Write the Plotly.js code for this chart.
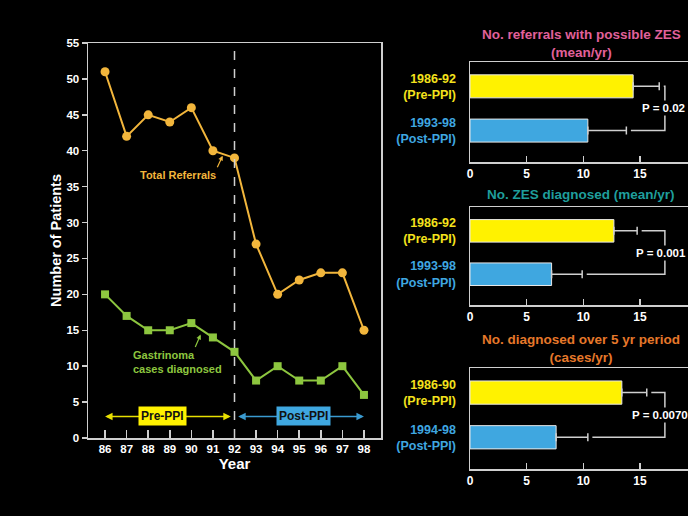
<!DOCTYPE html>
<html>
<head>
<meta charset="utf-8">
<script src="https://cdn.plot.ly/plotly-3.0.1.min.js"></script>
<style>html,body{margin:0;padding:0;background:#000;}#chart{width:688px;height:516px;}</style>
</head>
<body>
<div id="chart"></div>
<script>
// ---- Data ----
const years = [86, 87, 88, 89, 90, 91, 92, 93, 94, 95, 96, 97, 98];
const totalReferrals = [51, 42, 45, 44, 46, 40, 39, 27, 20, 22, 23, 23, 15];
const gastrinomaCases = [20, 17, 15, 15, 16, 14, 12, 8, 10, 8, 8, 10, 6];
const yTicks = [0, 5, 10, 15, 20, 25, 30, 35, 40, 45, 50, 55];

const periodLabels1 = ['1986-92', '1993-98'];
const periodLabels2 = ['1986-92', '1993-98'];
const periodLabels3 = ['1986-90', '1994-98'];
const referralsMean = [14.4, 10.4];
const referralsErr = [2.3, 3.4];
const zesMean = [12.7, 7.2];
const zesErr = [2.05, 2.7];
const fiveYrMean = [13.4, 7.6];
const fiveYrErr = [2.2, 2.8];
const pValues = ['P = 0.02', 'P = 0.001', 'P = 0.0070'];
const panelTitles = [
  'No. referrals with possible ZES<br>(mean/yr)',
  'No. ZES diagnosed (mean/yr)',
  'No. diagnosed over 5 yr period<br>(cases/yr)'
];

// ---- Styling ----
const W = 688, H = 516;
const FONT = 'Liberation Sans, Arial, Helvetica, sans-serif';
const GOLD = '#F2B63C', GREEN = '#8DC63F';
const YEL = '#FFF200', BLUE = '#3FA7E0';
const LBL_YEL = '#F4E21C', LBL_BLUE = '#3FA7E0';
const AXC = '#cfcfcf';
const px = v => v / W;
const py = v => 1 - v / H;

const traces = [];
traces.push({
  x: years, y: totalReferrals, type: 'scatter', mode: 'lines+markers',
  line: {color: GOLD, width: 2}, marker: {color: GOLD, size: 9, symbol: 'circle'},
  xaxis: 'x', yaxis: 'y', hoverinfo: 'skip'
});
traces.push({
  x: years, y: gastrinomaCases, type: 'scatter', mode: 'lines+markers',
  line: {color: GREEN, width: 2}, marker: {color: GREEN, size: 8, symbol: 'square'},
  xaxis: 'x', yaxis: 'y', hoverinfo: 'skip'
});

const panels = [
  {means: referralsMean, errs: referralsErr, labels: periodLabels1, xa: 'x2', ya: 'y2', top: 62, bottom: 162, pLeft: 640, title: panelTitles[0], titleY: 33, color: '#E0619A'},
  {means: zesMean, errs: zesErr, labels: periodLabels2, xa: 'x3', ya: 'y3', top: 207, bottom: 305, pLeft: 634, title: panelTitles[1], titleY: 193, color: '#1F9E9C'},
  {means: fiveYrMean, errs: fiveYrErr, labels: periodLabels3, xa: 'x4', ya: 'y4', top: 368, bottom: 469, pLeft: 630, title: panelTitles[2], titleY: 338, color: '#E6782A'}
];
const catPos = [1, 0];
const bracketX = 17.2;

const shapes = [];
const annotations = [];

panels.forEach((p, i) => {
  traces.push({
    type: 'bar', orientation: 'h', x: p.means, y: catPos, width: 0.52,
    marker: {color: [YEL, BLUE], line: {color: '#e8e8e8', width: 1}},
    error_x: {type: 'data', symmetric: false, array: p.errs, arrayminus: [0, 0], visible: true,
      color: '#cfcfcf', thickness: 1.5, width: 4},
    xaxis: p.xa, yaxis: p.ya, hoverinfo: 'skip'
  });
  const capPre = p.means[0] + p.errs[0];
  const capPost = p.means[1] + p.errs[1];
  shapes.push({
    type: 'path', xref: p.xa, yref: p.ya,
    path: `M ${capPre + 0.4} ${catPos[0]} L ${bracketX} ${catPos[0]} L ${bracketX} ${catPos[1]} L ${capPost + 0.4} ${catPos[1]}`,
    line: {color: '#cfcfcf', width: 1.5}
  });
  annotations.push({
    xref: 'paper', yref: p.ya, x: px(p.pLeft), y: 0.5, xanchor: 'left', yanchor: 'middle',
    text: '<b>' + pValues[i] + '</b>', showarrow: false, bgcolor: '#000', borderpad: 1,
    font: {family: FONT, size: 11.5, color: '#ffffff'}
  });
  annotations.push({
    xref: 'paper', yref: 'paper', x: px(581), y: py(p.titleY), xanchor: 'center', yanchor: 'top',
    yshift: 8, text: '<b>' + p.title + '</b>', showarrow: false, align: 'center',
    font: {family: FONT, size: 13.5, color: p.color}
  });
});

// Main chart overlays
shapes.push({type: 'line', xref: 'x', yref: 'paper', x0: 92, x1: 92, y0: py(438), y1: py(48),
  line: {color: '#d0d0d0', width: 1.5, dash: 'dash'}});

annotations.push({xref: 'x', yref: 'y', x: 86, y: 3, axref: 'x', ayref: 'y', ax: 91.9, ay: 3,
  text: '', showarrow: true, arrowhead: 2, arrowside: 'end+start', arrowsize: 1, arrowwidth: 1.5, arrowcolor: '#E8E000'});
annotations.push({xref: 'x', yref: 'y', x: 98, y: 3, axref: 'x', ayref: 'y', ax: 92.1, ay: 3,
  text: '', showarrow: true, arrowhead: 2, arrowside: 'end+start', arrowsize: 1, arrowwidth: 1.5, arrowcolor: '#3A9AD0'});
annotations.push({xref: 'x', yref: 'y', x: 88.67, y: 3, text: '<b>Pre-PPI</b>', showarrow: false,
  bgcolor: YEL, borderpad: 2, font: {family: FONT, size: 12, color: '#111'}});
annotations.push({xref: 'x', yref: 'y', x: 95.2, y: 3, text: '<b>Post-PPI</b>', showarrow: false,
  bgcolor: BLUE, borderpad: 2, font: {family: FONT, size: 12, color: '#111'}});

annotations.push({xref: 'paper', yref: 'paper', x: px(178), y: py(175), xanchor: 'center', yanchor: 'middle',
  text: '<b>Total Referrals</b>', showarrow: false, font: {family: FONT, size: 11, color: GOLD}});
annotations.push({xref: 'x', yref: 'y', x: 91.45, y: 39.3, text: '', showarrow: true, ax: -6, ay: 13,
  arrowhead: 2, arrowsize: 0.8, arrowwidth: 1.2, arrowcolor: GOLD});
annotations.push({xref: 'paper', yref: 'paper', x: px(131), y: py(362), xanchor: 'left', yanchor: 'middle',
  align: 'left', text: '<b>Gastrinoma<br>cases diagnosed</b>', showarrow: false,
  font: {family: FONT, size: 11, color: GREEN}});
annotations.push({xref: 'x', yref: 'y', x: 90.43, y: 14.4, text: '', showarrow: true, ax: -6, ay: 14,
  arrowhead: 2, arrowsize: 0.8, arrowwidth: 1.2, arrowcolor: GREEN});

const tickFont = {family: FONT, size: 11.5, color: '#ffffff', weight: 'bold'};

const layout = {
  width: W, height: H, paper_bgcolor: '#000', plot_bgcolor: '#000',
  margin: {l: 0, r: 0, t: 0, b: 0}, showlegend: false,
  font: {family: FONT, color: '#fff'},
  xaxis: {domain: [px(88), px(381)], range: [85.21, 98.79], tickvals: years,
    ticks: 'inside', ticklen: 8, tickwidth: 1.5, tickcolor: AXC, showline: true, linecolor: AXC,
    linewidth: 1.5, mirror: true, showgrid: false, zeroline: false, tickfont: tickFont,
    title: {text: '<b>Year</b>', font: {family: FONT, size: 15, color: '#fff'}, standoff: 3}, anchor: 'y'},
  yaxis: {domain: [py(438), py(43)], range: [0, 55], tickvals: yTicks,
    ticks: 'outside', ticklen: 5, tickwidth: 1.5, tickcolor: AXC, showline: true, linecolor: AXC,
    linewidth: 1.5, mirror: true, showgrid: false, zeroline: false, tickfont: tickFont,
    title: {text: '<b>Number of Patients</b>', font: {family: FONT, size: 14.5, color: '#fff'}, standoff: 1}, anchor: 'x'},
  shapes: shapes, annotations: annotations
};

panels.forEach((p, i) => {
  const n = i + 2;
  layout['xaxis' + n] = {domain: [px(470), 1], range: [0, 19.24], tickvals: [0, 5, 10, 15],
    ticks: 'inside', ticklen: 6, tickwidth: 1.5, tickcolor: AXC, showline: true, linecolor: AXC,
    linewidth: 1.5, mirror: true, showgrid: false, zeroline: false, anchor: 'y' + n,
    tickfont: {family: FONT, size: 12, color: '#fff', weight: 'bold'}};
  layout['yaxis' + n] = {domain: [py(p.bottom), py(p.top)], range: [-0.71, 1.55],
    tickvals: catPos,
    ticktext: [
      '<span style="color:' + LBL_YEL + '">' + p.labels[0] + '<br>(Pre-PPI)</span>',
      '<span style="color:' + LBL_BLUE + '">' + p.labels[1] + '<br>(Post-PPI)</span>'
    ],
    ticks: '', ticklabelstandoff: 10, showline: true, linecolor: AXC, linewidth: 1.5, mirror: false,
    showgrid: false, zeroline: false, anchor: 'x' + n,
    tickfont: {family: FONT, size: 12.5, color: '#fff', weight: 'bold'}};
});

Plotly.newPlot('chart', traces, layout, {staticPlot: true, displayModeBar: false});
</script>
</body>
</html>
